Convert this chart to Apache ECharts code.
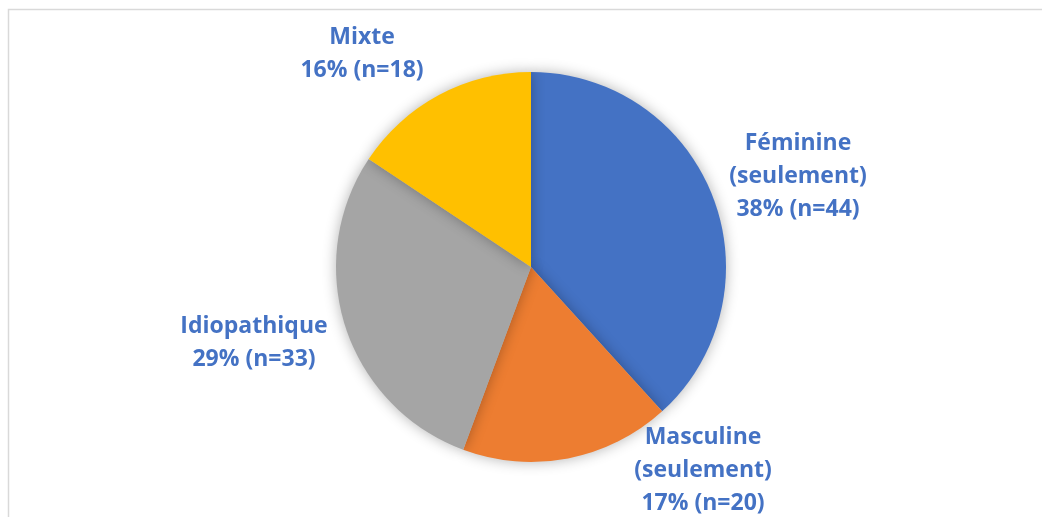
<!DOCTYPE html>
<html>
<head>
<meta charset="utf-8">
<script src="https://cdn.jsdelivr.net/npm/echarts@6/dist/echarts.min.js"></script>
<style>
  html, body { margin: 0; padding: 0; background: #fff; }
  #chart { width: 1042px; height: 517px; }
</style>
</head>
<body>
<div id="chart"></div>
<script>
const categories = ['Féminine\n(seulement)', 'Masculine\n(seulement)', 'Idiopathique', 'Mixte']
const counts = [44, 20, 33, 18]
const colors = ['#4472C4', '#ED7D31', '#A5A5A5', '#FFC000']

// label centres (px), same order as categories
const labelPos = [[798, 176], [703, 470], [254, 343], [362, 54]]

const chart = echarts.init(document.getElementById('chart'))

const option = {
  animation: false,
  graphic: [
    {
      type: 'rect',
      shape: { x: 8.5, y: 9.5, width: 1100, height: 600 },
      style: { fill: 'none', stroke: '#d9d9d9', lineWidth: 1.5 },
      silent: true
    }
  ],
  series: [
    {
      type: 'pie',
      center: [531, 267],
      radius: 195,
      startAngle: 90,
      clockwise: true,
      percentPrecision: 0,
      data: categories.map((name, i) => ({
        name: name,
        value: counts[i],
        itemStyle: { color: colors[i] }
      })),
      itemStyle: {
        borderWidth: 0,
        shadowBlur: 14,
        shadowColor: 'rgba(0, 0, 0, 0.3)'
      },
      label: {
        show: true,
        position: 'outside',
        formatter: '{b}\n{d}% (n={c})',
        color: '#4472C4',
        fontFamily: 'Open Sans',
        fontWeight: 'bold',
        fontSize: 23,
        lineHeight: 33,
        align: 'center'
      },
      labelLine: { show: false },
      labelLayout: function (params) {
        const p = labelPos[params.dataIndex]
        return { x: p[0], y: p[1], align: 'center', verticalAlign: 'middle' }
      },
      emphasis: { disabled: true }
    }
  ]
}

chart.setOption(option)
</script>
</body>
</html>
